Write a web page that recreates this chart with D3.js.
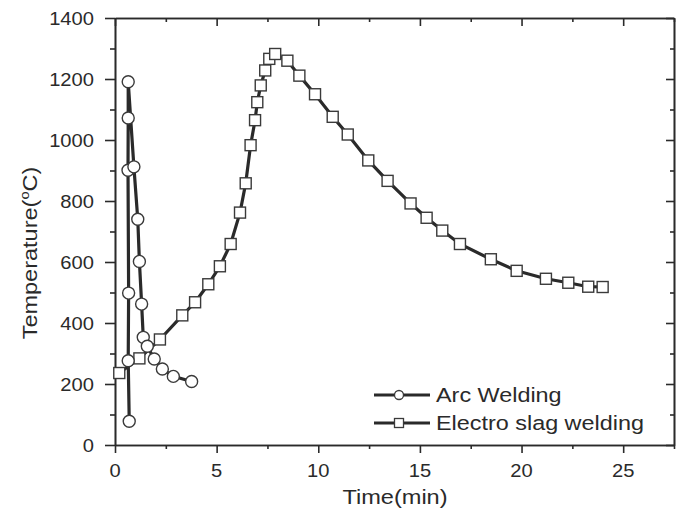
<!DOCTYPE html>
<html>
<head>
<meta charset="utf-8">
<script src="https://cdn.jsdelivr.net/npm/d3@7"></script>
<style>
  body { margin: 0; background: #fff; }
  text { font-family: "Liberation Sans", Arial, sans-serif; fill: #2a2a2a; }
</style>
</head>
<body>
<div id="chart"></div>
<script>
// Arc welding (circles)
var arcTime = [0.7, 0.65, 0.67, 0.64, 0.65, 0.65, 0.93, 1.12, 1.2, 1.31, 1.39, 1.59, 1.93, 2.33, 2.87, 3.77];
var arcTemp = [78, 276, 498, 901, 1072, 1191, 912, 740, 602, 462, 353, 324, 282, 249, 225, 208];

// Electro slag welding (squares)
var eswTime = [0.21, 1.2, 2.21, 3.31, 3.94, 4.59, 5.16, 5.69, 6.15, 6.43, 6.67, 6.89, 7.0, 7.17, 7.39, 7.59, 7.88,
               8.48, 9.07, 9.84, 10.71, 11.45, 12.46, 13.41, 14.54, 15.33, 16.1, 16.97, 18.49, 19.76, 21.2, 22.3, 23.28, 23.99];
var eswTemp = [236, 284, 346, 425, 468, 527, 586, 659, 762, 858, 983, 1065, 1124, 1179, 1228, 1266, 1282,
               1260, 1211, 1150, 1076, 1018, 933, 866, 792, 745, 703, 659, 609, 571, 545, 532, 519, 518];

var xTicks = [0, 5, 10, 15, 20, 25];
var xMinor = [2.5, 7.5, 12.5, 17.5, 22.5, 27.5];
var yTicks = [0, 200, 400, 600, 800, 1000, 1200, 1400];
var yMinor = [100, 300, 500, 700, 900, 1100, 1300];

var seriesNames = ["Arc Welding", "Electro slag welding"];

var width = 686, height = 517;
var ink = "#2a2a2a";

var svg = d3.select("#chart").append("svg")
  .attr("width", width)
  .attr("height", height);

var x = d3.scaleLinear().domain([0, 27.5]).range([115, 674]);
var y = d3.scaleLinear().domain([0, 1400]).range([445, 18]);

// axes: left/bottom ticks outward, top/right inward
function styleAxis(g) {
  g.selectAll("path").attr("stroke", ink).attr("stroke-width", 1.6);
  g.selectAll("line").attr("stroke", ink).attr("stroke-width", 1.6);
}

svg.append("g").attr("transform", "translate(0,445)")
  .call(d3.axisBottom(x).tickValues(xTicks).tickSize(8).tickFormat("").tickSizeOuter(0)).call(styleAxis);
svg.append("g").attr("transform", "translate(0,445)")
  .call(d3.axisBottom(x).tickValues(xMinor).tickSize(4).tickFormat("").tickSizeOuter(0)).call(styleAxis);
svg.append("g").attr("transform", "translate(0,18)")
  .call(d3.axisTop(x).tickValues(xTicks).tickSize(-8).tickFormat("").tickSizeOuter(0)).call(styleAxis);
svg.append("g").attr("transform", "translate(0,18)")
  .call(d3.axisTop(x).tickValues(xMinor).tickSize(-4).tickFormat("").tickSizeOuter(0)).call(styleAxis);

svg.append("g").attr("transform", "translate(115,0)")
  .call(d3.axisLeft(y).tickValues(yTicks).tickSize(10).tickFormat("").tickSizeOuter(0)).call(styleAxis);
svg.append("g").attr("transform", "translate(115,0)")
  .call(d3.axisLeft(y).tickValues(yMinor).tickSize(5).tickFormat("").tickSizeOuter(0)).call(styleAxis);
svg.append("g").attr("transform", "translate(674,0)")
  .call(d3.axisRight(y).tickValues(yTicks).tickSize(-8).tickFormat("").tickSizeOuter(0)).call(styleAxis);
svg.append("g").attr("transform", "translate(674,0)")
  .call(d3.axisRight(y).tickValues(yMinor).tickSize(-4).tickFormat("").tickSizeOuter(0)).call(styleAxis);

// tick labels (scan looks horizontally stretched)
svg.selectAll("text.ylab").data(yTicks).join("text")
  .attr("class", "ylab")
  .attr("transform", function (d) { return "translate(94," + (y(d) + 6.5) + ") scale(1.12,1)"; })
  .attr("text-anchor", "end")
  .attr("font-size", 18)
  .text(function (d) { return d; });

svg.selectAll("text.xlab").data(xTicks).join("text")
  .attr("class", "xlab")
  .attr("transform", function (d) { return "translate(" + x(d) + ",477) scale(1.12,1)"; })
  .attr("text-anchor", "middle")
  .attr("font-size", 18)
  .text(function (d) { return d; });

// axis titles
svg.append("text")
  .attr("transform", "translate(395,504) scale(1.15,1)")
  .attr("text-anchor", "middle")
  .attr("font-size", 20.5)
  .text("Time(min)");

var yt = svg.append("text")
  .attr("transform", "translate(37,253) rotate(-90) scale(1.12,1)")
  .attr("text-anchor", "middle")
  .attr("font-size", 21);
yt.append("tspan").text("Temperature(");
yt.append("tspan").attr("font-size", 13).attr("dy", -8).text("o");
yt.append("tspan").attr("dy", 8).text("C)");

// series
var arcData = arcTime.map(function (t, i) { return [t, arcTemp[i]]; });
var eswData = eswTime.map(function (t, i) { return [t, eswTemp[i]]; });

var line = d3.line().x(function (d) { return x(d[0]); }).y(function (d) { return y(d[1]); });

svg.append("path").datum(eswData)
  .attr("d", line).attr("fill", "none").attr("stroke", ink).attr("stroke-width", 3.2);
svg.append("path").datum(arcData)
  .attr("d", line).attr("fill", "none").attr("stroke", ink).attr("stroke-width", 3.2);

svg.selectAll("rect.esw").data(eswData).join("rect")
  .attr("class", "esw")
  .attr("x", function (d) { return x(d[0]) - 5.5; })
  .attr("y", function (d) { return y(d[1]) - 5.5; })
  .attr("width", 11).attr("height", 11)
  .attr("fill", "#fff").attr("stroke", "#3a3a3a").attr("stroke-width", 1.4);

svg.selectAll("circle.arc").data(arcData).join("circle")
  .attr("class", "arc")
  .attr("cx", function (d) { return x(d[0]); })
  .attr("cy", function (d) { return y(d[1]); })
  .attr("r", 6)
  .attr("fill", "#fff").attr("stroke", "#3a3a3a").attr("stroke-width", 1.4);

// legend
var legend = svg.append("g");
seriesNames.forEach(function (name, i) {
  var ly = 395 + i * 28;
  legend.append("line").attr("x1", 374).attr("x2", 430).attr("y1", ly).attr("y2", ly)
    .attr("stroke", ink).attr("stroke-width", 3);
  if (i === 0) {
    legend.append("circle").attr("cx", 399).attr("cy", ly).attr("r", 4.5)
      .attr("fill", "#fff").attr("stroke", "#3a3a3a").attr("stroke-width", 1.3);
  } else {
    legend.append("rect").attr("x", 394.5).attr("y", ly - 4.5).attr("width", 9).attr("height", 9)
      .attr("fill", "#fff").attr("stroke", "#3a3a3a").attr("stroke-width", 1.3);
  }
  legend.append("text")
    .attr("transform", "translate(436," + (ly + 7) + ") scale(1.2,1)")
    .attr("font-size", 19.5)
    .text(name);
});
</script>
</body>
</html>
